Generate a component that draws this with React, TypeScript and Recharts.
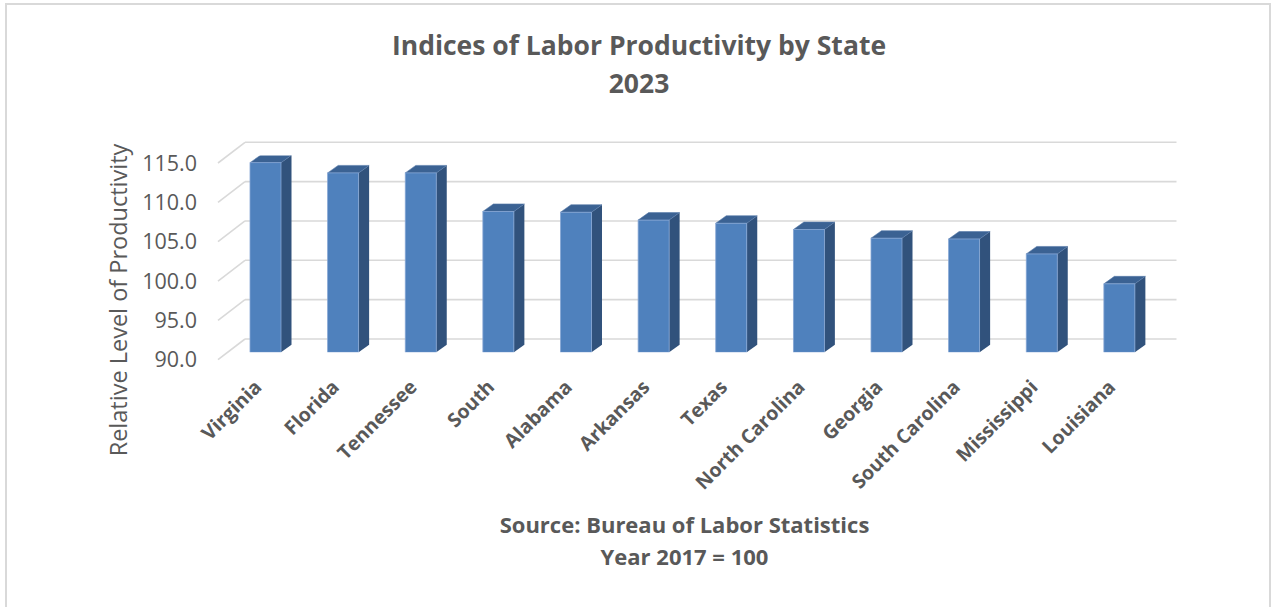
import React from 'react';
import { BarChart, Bar, XAxis, YAxis, CartesianGrid } from 'recharts';

const states = ['Virginia', 'Florida', 'Tennessee', 'South', 'Alabama', 'Arkansas', 'Texas', 'North Carolina', 'Georgia', 'South Carolina', 'Mississippi', 'Louisiana'];
const productivity = [114.1, 112.8, 112.8, 107.9, 107.8, 106.8, 106.4, 105.6, 104.5, 104.4, 102.5, 98.7];
const yTicks = [90, 95, 100, 105, 110, 115];

const data = states.map((state, i) => ({ state, value: productivity[i] }));

const TEXT = '#595959';
const FONT = '"Open Sans", Lato, sans-serif';
const DEPTH_X = 10.5;
const DEPTH_Y = 7.5;
// back wall offset relative to the bars' front plane
const WALL_X = 18;
const WALL_Y = 13.3;

const Bar3D = (props: any) => {
  const { x, y, width, height } = props;
  if (height == null || height <= 0) return null;
  const r = x + width;
  return (
    <g>
      <polygon
        points={`${r},${y} ${r + DEPTH_X},${y - DEPTH_Y} ${r + DEPTH_X},${y + height - DEPTH_Y} ${r},${y + height}`}
        fill="#31527C"
      />
      <polygon
        points={`${x},${y} ${x + DEPTH_X},${y - DEPTH_Y} ${r + DEPTH_X},${y - DEPTH_Y} ${r},${y}`}
        fill="#3B6293"
        stroke="#5679A8"
        strokeWidth={0.6}
      />
      <rect x={x} y={y} width={width} height={height} fill="#4F81BD" stroke="#86A6D4" strokeWidth={0.8} />
    </g>
  );
};

const wallLine = (props: any) => {
  const { x1, x2, y1, key } = props;
  const yb = y1 - WALL_Y;
  return (
    <g key={key}>
      <line x1={x1 + WALL_X} y1={yb} x2={x2 + WALL_X} y2={yb} stroke="#D9D9D9" strokeWidth={1.6} />
      <line x1={x1 - 9} y1={yb + 20.7} x2={x1 + WALL_X} y2={yb} stroke="#D9D9D9" strokeWidth={1.6} />
    </g>
  );
};

const YTick = (props: any) => {
  const { y, payload } = props;
  return (
    <text x={197} y={y + 7.4} dy={7.5} textAnchor="end" fill={TEXT} fontSize={21.5} fontFamily={FONT}>
      {Number(payload.value).toFixed(1)}
    </text>
  );
};

const XTick = (props: any) => {
  const { x, y, payload } = props;
  const ax = x - 3;
  const ay = y + 28;
  return (
    <text
      x={ax}
      y={ay}
      textAnchor="end"
      transform={`rotate(-45, ${ax}, ${ay})`}
      fill={TEXT}
      fontSize={19.5}
      fontWeight="bold"
      fontFamily={FONT}
    >
      {payload.value}
    </text>
  );
};

export default function App() {
  return (
    <div style={{ position: 'absolute', left: 0, top: 0, width: 1271, height: 607, background: '#fff', overflow: 'hidden', fontFamily: FONT }}>
      <div style={{ position: 'absolute', left: 5, top: 3, width: 1262, height: 640, border: '2px solid #D9D9D9' }} />
      <div style={{ position: 'absolute', left: 0, width: 1278, top: 26, textAlign: 'center', color: TEXT, fontWeight: 'bold', fontSize: 26.5, lineHeight: '38px' }}>
        Indices of Labor Productivity by State
        <br />
        2023
      </div>
      <div
        style={{
          position: 'absolute',
          left: 118 - 200,
          top: 300 - 16,
          width: 400,
          height: 32,
          lineHeight: '32px',
          textAlign: 'center',
          transform: 'rotate(-90deg)',
          color: TEXT,
          fontSize: 23.5,
        }}
      >
        Relative Level of Productivity
      </div>
      <div style={{ position: 'absolute', left: 0, width: 1369, top: 508, textAlign: 'center', color: TEXT, fontWeight: 'bold', fontSize: 22, lineHeight: '32px' }}>
        Source: Bureau of Labor Statistics
        <br />
        Year 2017 = 100
      </div>
      <div style={{ position: 'absolute', left: 0, top: 0 }}>
        <BarChart
          width={1271}
          height={607}
          data={data}
          margin={{ top: 155.6, right: 112.5, bottom: 224.7, left: 167 }}
          barSize={31}
        >
          <CartesianGrid horizontal={wallLine} vertical={false} />
          <XAxis dataKey="state" axisLine={false} tickLine={false} interval={0} height={30} tick={<XTick />} />
          <YAxis
            domain={[90, 115]}
            ticks={yTicks}
            width={60}
            axisLine={false}
            tickLine={false}
            allowDataOverflow
            tick={<YTick />}
          />
          <Bar dataKey="value" shape={<Bar3D />} isAnimationActive={false} />
        </BarChart>
      </div>
    </div>
  );
}
